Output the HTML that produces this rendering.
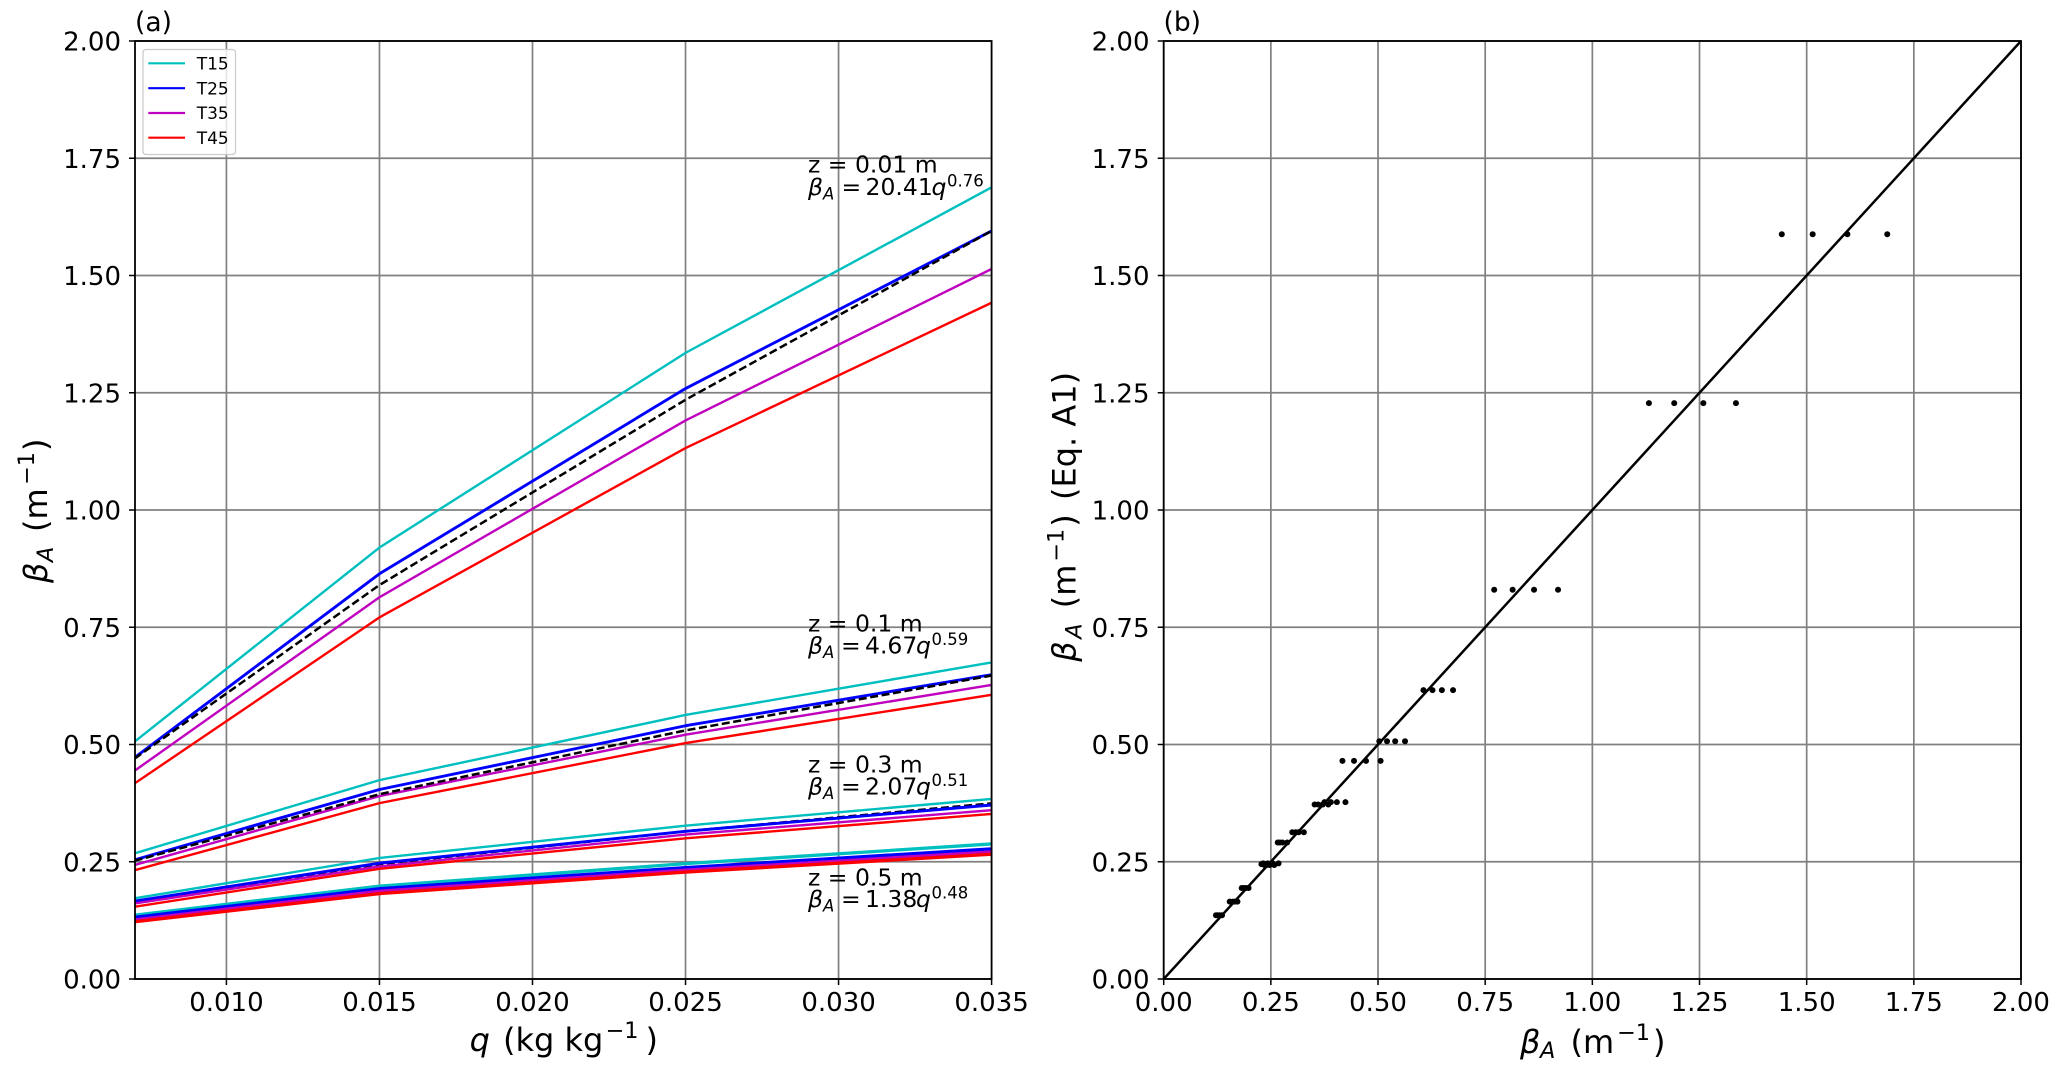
<!DOCTYPE html>
<html lang="en">
<head>
<meta charset="utf-8">
<title>Beta A versus q</title>
<style>
html,body{margin:0;padding:0;background:#fff;}
svg{display:block;}
text{font-family:"DejaVu Sans","Liberation Sans",sans-serif;fill:#000;}
.it{font-style:italic;}
</style>
</head>
<body>
<svg id="chart" xmlns="http://www.w3.org/2000/svg" width="2067" height="1073" viewBox="0 0 2067 1073">
  <defs>
    <clipPath id="clip-a"><rect x="135" y="41" width="856.6" height="938"/></clipPath>
    <clipPath id="clip-b"><rect x="1163.7" y="41" width="857.3" height="938"/></clipPath>
  </defs>
  <g id="grid-a"></g>
  <g id="grid-b"></g>
  <g id="lines-a" clip-path="url(#clip-a)"></g>
  <g id="marks-b" clip-path="url(#clip-b)"></g>
  <g id="axes"></g>

  <text x="135" y="31" font-size="26.5">(a)</text>
  <text x="1163.5" y="31" font-size="26.5">(b)</text>

  <g>
    <rect x="143" y="49.5" width="92.5" height="105" rx="3" fill="#fff" fill-opacity="0.8" stroke="#ccc" stroke-width="1.3"/>
    <g><line x1="148.3" x2="185" y1="63.3" y2="63.3" stroke="#00bfbf" stroke-width="2.2"/><text x="196.7" y="69.5" font-size="17">T15</text></g>
    <g><line x1="148.3" x2="185" y1="88.2" y2="88.2" stroke="#0000ff" stroke-width="2.2"/><text x="196.7" y="94.4" font-size="17">T25</text></g>
    <g><line x1="148.3" x2="185" y1="113" y2="113" stroke="#bf00bf" stroke-width="2.2"/><text x="196.7" y="119.2" font-size="17">T35</text></g>
    <g><line x1="148.3" x2="185" y1="137.7" y2="137.7" stroke="#ff0000" stroke-width="2.2"/><text x="196.7" y="144" font-size="17">T45</text></g>
  </g>

  <g font-size="23.5">
    <text x="808" y="172.5">z = 0.01 m</text>
    <text class="it" x="808" y="195">β</text><text class="it" x="823" y="199.5" font-size="16.5">A</text><text x="841.5" y="195">=</text><text x="865.5" y="195">20.41</text><text class="it" x="931.5" y="195">q</text><text x="947" y="186.5" font-size="16.5">0.76</text>
  </g>
  <g font-size="23.5">
    <text x="808" y="631.5">z = 0.1 m</text>
    <text class="it" x="808" y="653.5">β</text><text class="it" x="823" y="658" font-size="16.5">A</text><text x="841" y="653.5">=</text><text x="865" y="653.5">4.67</text><text class="it" x="916" y="653.5">q</text><text x="931.5" y="645" font-size="16.5">0.59</text>
  </g>
  <g font-size="23.5">
    <text x="808" y="772.5">z = 0.3 m</text>
    <text class="it" x="808" y="794.5">β</text><text class="it" x="823" y="799" font-size="16.5">A</text><text x="841" y="794.5">=</text><text x="865" y="794.5">2.07</text><text class="it" x="916" y="794.5">q</text><text x="931.5" y="786" font-size="16.5">0.51</text>
  </g>
  <g font-size="23.5">
    <text x="808" y="885.5">z = 0.5 m</text>
    <text class="it" x="808" y="907">β</text><text class="it" x="823" y="911.5" font-size="16.5">A</text><text x="841" y="907">=</text><text x="865" y="907">1.38</text><text class="it" x="916" y="907">q</text><text x="931.5" y="898.5" font-size="16.5">0.48</text>
  </g>

  <g font-size="32">
    <text class="it" x="469.6" y="1051">q</text>
    <text x="503" y="1051">(kg kg</text>
    <text x="605.5" y="1038" font-size="22.4">−1</text>
    <text x="645.5" y="1051">)</text>
  </g>
  <g font-size="32" transform="translate(47,583) rotate(-90)">
    <text class="it" x="0" y="0">β</text>
    <text class="it" x="21" y="6" font-size="22.4">A</text>
    <text x="51" y="0">(m</text>
    <text x="98" y="-13" font-size="22.4">−1</text>
    <text x="132" y="0">)</text>
  </g>
  <g font-size="32" transform="translate(1520,1053)">
    <text class="it" x="0" y="0">β</text>
    <text class="it" x="20" y="5" font-size="22.4">A</text>
    <text x="50.5" y="0">(m</text>
    <text x="97" y="-13" font-size="22.4">−1</text>
    <text x="133" y="0">)</text>
  </g>
  <g font-size="32" transform="translate(1075.7,661.7) rotate(-90)">
    <text class="it" x="0" y="0">β</text>
    <text class="it" x="23" y="6" font-size="22.4">A</text>
    <text x="53.5" y="0">(m</text>
    <text x="100" y="-12" font-size="22.4">−1</text>
    <text x="135" y="0">)</text>
    <text x="161.7" y="0">(Eq. A1)</text>
  </g>
</svg>
<script>
const qValues = [0.007, 0.015, 0.025, 0.035];

const z001T15 = [0.506, 0.920, 1.335, 1.688];
const z001T25 = [0.472, 0.864, 1.259, 1.595];
const z001T35 = [0.444, 0.814, 1.191, 1.514];
const z001T45 = [0.417, 0.771, 1.132, 1.442];
const z001Fit = [0.470, 0.840, 1.235, 1.595];

const z01T15 = [0.268, 0.424, 0.563, 0.675];
const z01T25 = [0.254, 0.404, 0.540, 0.649];
const z01T35 = [0.243, 0.390, 0.521, 0.627];
const z01T45 = [0.232, 0.375, 0.503, 0.606];
const z01Fit = [0.252, 0.394, 0.530, 0.647];

const z03T15 = [0.172, 0.258, 0.327, 0.384];
const z03T25 = [0.166, 0.247, 0.315, 0.371];
const z03T35 = [0.161, 0.240, 0.308, 0.360];
const z03T45 = [0.154, 0.235, 0.300, 0.352];
const z03Fit = [0.165, 0.245, 0.315, 0.3745];

const z05T15 = [0.136, 0.198, 0.246, 0.288];
const z05T25 = [0.131, 0.192, 0.237, 0.277];
const z05T35 = [0.126, 0.187, 0.232, 0.271];
const z05T45 = [0.122, 0.182, 0.228, 0.266];
const z05Fit = [0.1275, 0.188, 0.235, 0.277];

const scatterY001 = [0.465, 0.830, 1.228, 1.588];
const scatterY01 = [0.2465, 0.377, 0.507, 0.616];
const scatterY03 = [0.165, 0.243, 0.313, 0.372];
const scatterY05 = [0.136, 0.194, 0.245, 0.291];

const identityLine = [0, 2];

const xTicksA = [0.010, 0.015, 0.020, 0.025, 0.030, 0.035];
const yTicks = [0, 0.25, 0.5, 0.75, 1, 1.25, 1.5, 1.75, 2];
const xTicksB = [0, 0.25, 0.5, 0.75, 1, 1.25, 1.5, 1.75, 2];

const NS = 'http://www.w3.org/2000/svg';
const xA = v => 134.6 + (v - 0.007) * (991.6 - 134.6) / 0.028;
const yV = v => 979 - v * 469;
const xB = v => 1163.7 + v * 428.65;

function mk(tag, attrs, parent) {
  const el = document.createElementNS(NS, tag);
  for (const k in attrs) el.setAttribute(k, attrs[k]);
  parent.appendChild(el);
  return el;
}

const gridA = document.getElementById('grid-a');
const gridB = document.getElementById('grid-b');
const linesA = document.getElementById('lines-a');
const marksB = document.getElementById('marks-b');
const axes = document.getElementById('axes');
const GRID = '#808080';

xTicksA.forEach(t => {
  const g = mk('line', {x1: xA(t), x2: xA(t), y1: 41, y2: 979, stroke: GRID, 'stroke-width': 1.7}, gridA);
  
  
  const m = mk('line', {x1: xA(t), x2: xA(t), y1: 979, y2: 985, stroke: '#000', 'stroke-width': 1.5}, axes);
  
  
  const l = mk('text', {x: xA(t), y: 1011, 'font-size': 26, 'text-anchor': 'middle'}, axes);
  l.textContent = t.toFixed(3);
  
  
});

xTicksB.forEach(t => {
  const g = mk('line', {x1: xB(t), x2: xB(t), y1: 41, y2: 979, stroke: GRID, 'stroke-width': 1.7}, gridB);
  
  
  const m = mk('line', {x1: xB(t), x2: xB(t), y1: 979, y2: 985, stroke: '#000', 'stroke-width': 1.5}, axes);
  
  
  const l = mk('text', {x: xB(t), y: 1011, 'font-size': 26, 'text-anchor': 'middle'}, axes);
  l.textContent = t.toFixed(2);
  
  
});

yTicks.forEach(t => {
  const g1 = mk('line', {x1: 135, x2: 991.6, y1: yV(t), y2: yV(t), stroke: GRID, 'stroke-width': 1.7}, gridA);
  
  
  const g2 = mk('line', {x1: 1163.7, x2: 2021, y1: yV(t), y2: yV(t), stroke: GRID, 'stroke-width': 1.7}, gridB);
  
  
  const m1 = mk('line', {x1: 129, x2: 135, y1: yV(t), y2: yV(t), stroke: '#000', 'stroke-width': 1.5}, axes);
  
  
  const m2 = mk('line', {x1: 1157.7, x2: 1163.7, y1: yV(t), y2: yV(t), stroke: '#000', 'stroke-width': 1.5}, axes);
  
  
  const l1 = mk('text', {x: 121, y: yV(t) + 9.6, 'font-size': 26, 'text-anchor': 'end'}, axes);
  l1.textContent = t.toFixed(2);
  
  
  const l2 = mk('text', {x: 1149.5, y: yV(t) + 9.6, 'font-size': 26, 'text-anchor': 'end'}, axes);
  l2.textContent = t.toFixed(2);
  
  
});

const frameA = mk('rect', {x: 135, y: 41, width: 856.6, height: 938, fill: 'none', stroke: '#000', 'stroke-width': 1.8}, axes);


const frameB = mk('rect', {x: 1163.7, y: 41, width: 857.3, height: 938, fill: 'none', stroke: '#000', 'stroke-width': 1.8}, axes);



const COLORS = {T15: '#00bfbf', T25: '#0000ff', T35: '#bf00bf', T45: '#ff0000'};
const WIDTHS = {T15: 2.4, T25: 2.9, T35: 2.4, T45: 2.4};

const groups = [
  {z: '0.01', T15: z001T15, T25: z001T25, T35: z001T35, T45: z001T45, fit: z001Fit, sy: scatterY001, extra: 0, fitUnder: false},
  {z: '0.1', T15: z01T15, T25: z01T25, T35: z01T35, T45: z01T45, fit: z01Fit, sy: scatterY01, extra: 0, fitUnder: false},
  {z: '0.3', T15: z03T15, T25: z03T25, T35: z03T35, T45: z03T45, fit: z03Fit, sy: scatterY03, extra: 0, fitUnder: true},
  {z: '0.5', T15: z05T15, T25: z05T25, T35: z05T35, T45: z05T45, fit: z05Fit, sy: scatterY05, extra: 0.9, fitUnder: true}
];

function pathFor(vals) {
  return vals.map((v, i) => (i ? 'L' : 'M') + xA(qValues[i]).toFixed(2) + ' ' + yV(v).toFixed(2)).join(' ');
}

function drawFit(g) {
  const d = mk('path', {d: pathFor(g.fit), fill: 'none', stroke: '#000', 'stroke-width': 2.5, 'stroke-dasharray': '8 3.6'}, linesA);
  
  
}

groups.forEach(g => {
  if (g.fitUnder) drawFit(g);
  ['T15', 'T25', 'T35', 'T45'].forEach(k => {
    const p = mk('path', {d: pathFor(g[k]), fill: 'none', stroke: COLORS[k], 'stroke-width': WIDTHS[k] + g.extra, 'stroke-linejoin': 'round'}, linesA);
    
    
  });
  if (!g.fitUnder) drawFit(g);
});

const ident = mk('line', {x1: xB(identityLine[0]), y1: yV(identityLine[0]), x2: xB(identityLine[1]), y2: yV(identityLine[1]), stroke: '#000', 'stroke-width': 2.5}, marksB);



groups.forEach(g => {
  ['T15', 'T25', 'T35', 'T45'].forEach(k => {
    g[k].forEach((v, i) => {
      const c = mk('circle', {cx: xB(v), cy: yV(g.sy[i]), r: 3, fill: '#000'}, marksB);
      
      
    });
  });
});
</script>
</body>
</html>
